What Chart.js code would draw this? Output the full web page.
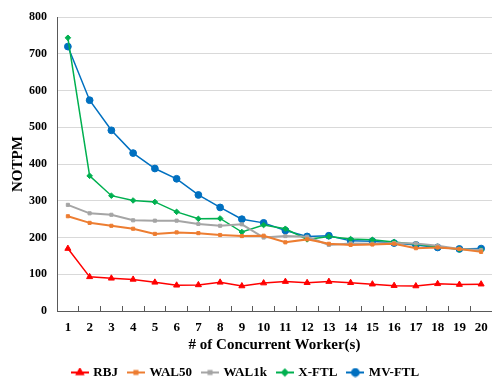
<!DOCTYPE html>
<html>
<head>
<meta charset="utf-8">
<script src="https://cdn.jsdelivr.net/npm/chart.js@4.4.1/dist/chart.umd.min.js"></script>
<style>
  html, body { margin: 0; padding: 0; background: #ffffff; }
  #wrap { width: 492px; height: 379px; }
</style>
</head>
<body>
<div id="wrap"><canvas id="chart" width="492" height="379"></canvas></div>
<script>
// number of concurrent workers (x categories)
const workers = ['1', '2', '3', '4', '5', '6', '7', '8', '9', '10',
                 '11', '12', '13', '14', '15', '16', '17', '18', '19', '20'];

// NOTPM per series
const rbj   = [170, 93, 89, 86, 78, 70, 71, 78, 68, 76, 80, 77, 80, 77, 73, 69, 68, 74, 72, 73];
const wal50 = [258, 240, 232, 224, 210, 214, 212, 207, 204, 205, 187, 195, 183, 180, 181, 183, 171, 173, 169, 161];
const wal1k = [289, 266, 262, 247, 246, 246, 237, 232, 236, 200, 204, 202, 180, 184, 183, 185, 184, 178, 169, 166];
const xftl  = [744, 368, 314, 301, 297, 270, 251, 252, 215, 234, 224, 195, 203, 196, 194, 188, 182, 175, 168, 166];
const mvftl = [720, 574, 492, 430, 388, 360, 316, 282, 250, 240, 219, 203, 205, 191, 190, 185, 180, 173, 169, 170];

const serif = "'Liberation Serif', 'Times New Roman', serif";
const axisColor = '#595959';

// a little line-with-marker icon for the legend, drawn like the series
function legendIcon (color, style, radius) {
    const c = document.createElement('canvas');
    c.width = 18;
    c.height = 10;
    const ctx = c.getContext('2d');
    ctx.strokeStyle = color;
    ctx.fillStyle = color;
    ctx.lineWidth = 2;
    ctx.beginPath();
    ctx.moveTo(0, 5);
    ctx.lineTo(18, 5);
    ctx.stroke();
    Chart.helpers.drawPoint(ctx, { pointStyle: style, radius: radius, rotation: 0, borderWidth: 1 }, 9, 5);
    ctx.fill();
    return c;
}

function series (label, data, color, style, radius, width) {
    return {
        label: label,
        data: data,
        borderColor: color,
        backgroundColor: color,
        borderWidth: width,
        pointStyle: style,
        pointRadius: radius,
        pointHoverRadius: radius,
        pointBorderWidth: 1,
        tension: 0,
        clip: 6,
        legendIcon: legendIcon(color, style, radius)
    };
}

const datasets = [
    series('RBJ', rbj, '#ff0000', 'triangle', 3.5, 1.5),
    series('WAL50', wal50, '#ed7d31', 'rect', 2.2, 2),
    series('WAL1k', wal1k, '#a5a5a5', 'rect', 2.2, 2),
    series('X-FTL', xftl, '#00b050', 'rectRot', 2.8, 1.5),
    series('MV-FTL', mvftl, '#0070c0', 'circle', 3.4, 1.5)
];

new Chart(document.getElementById('chart'), {
    type: 'line',
    data: { labels: workers, datasets: datasets },
    options: {
        responsive: false,
        animation: false,
        devicePixelRatio: 1,
        // the plot in the figure runs right up to the edge of the picture
        layout: { autoPadding: false, padding: { top: 17, right: 0, bottom: 0, left: 0 } },
        plugins: {
            tooltip: { enabled: false },
            legend: {
                position: 'bottom',
                maxHeight: 24,
                labels: {
                    usePointStyle: true,
                    pointStyleWidth: 14,
                    padding: 11,
                    color: '#000000',
                    font: { family: serif, size: 13, weight: 'bold' },
                    generateLabels: function (chart) {
                        return chart.data.datasets.map(function (ds, i) {
                            return {
                                text: ds.label,
                                pointStyle: ds.legendIcon,
                                fillStyle: ds.borderColor,
                                strokeStyle: ds.borderColor,
                                lineWidth: 0,
                                fontColor: '#000000',
                                datasetIndex: i,
                                hidden: false
                            };
                        });
                    }
                }
            }
        },
        scales: {
            x: {
                offset: true,
                // fixed band under the plot, and no side padding so the plot runs to the right edge
                afterFit: function (scale) {
                    scale.height = 44;
                    scale.paddingLeft = 0;
                    scale.paddingRight = 0;
                },
                grid: { drawOnChartArea: false, drawTicks: true, tickLength: -5, color: axisColor, offset: true },
                border: { color: axisColor, width: 1 },
                ticks: { color: '#000000', padding: 14, maxRotation: 0, font: { family: serif, size: 13, weight: 'bold' } },
                title: {
                    display: true,
                    text: '# of Concurrent Worker(s)',
                    color: '#000000',
                    padding: { top: 0, bottom: 1 },
                    font: { family: serif, size: 15, weight: 'bold' }
                }
            },
            y: {
                min: 0,
                max: 800,
                afterFit: function (scale) { scale.width = 57; },
                grid: { color: '#d9d9d9', drawTicks: false },
                border: { color: axisColor, width: 1 },
                ticks: { stepSize: 100, color: '#000000', padding: 10, font: { family: serif, size: 12, weight: 'bold' } },
                title: {
                    display: true,
                    text: 'NOTPM',
                    color: '#000000',
                    padding: { top: 9, bottom: 0 },
                    font: { family: serif, size: 15, weight: 'bold' }
                }
            }
        }
    }
});
</script>
</body>
</html>
